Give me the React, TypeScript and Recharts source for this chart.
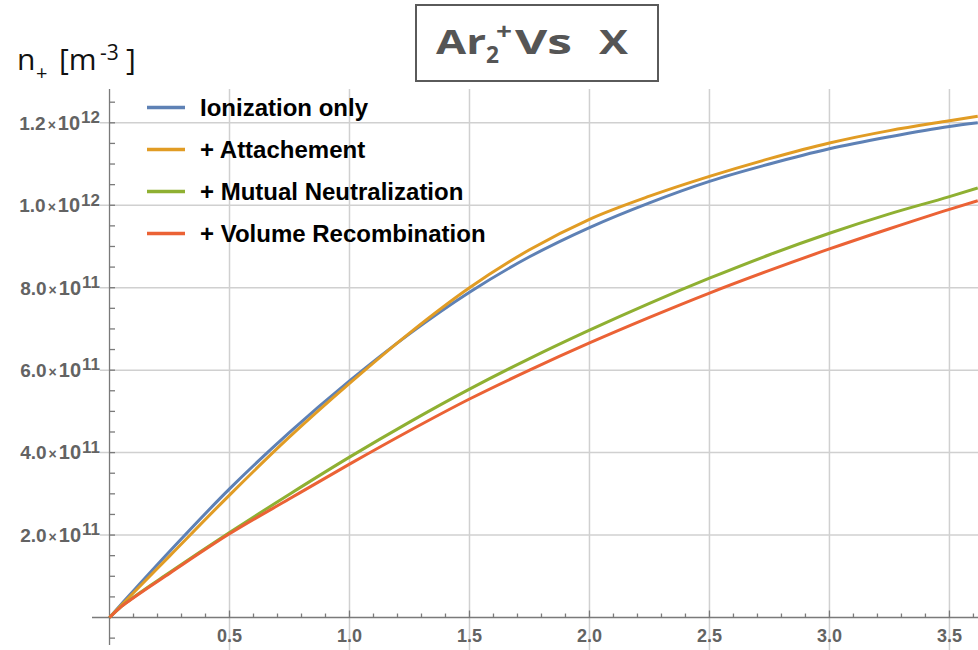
import React from 'react';
import { ComposedChart, Line, Scatter, XAxis, YAxis, ReferenceLine } from 'recharts';

// Sample positions along X and the Ar2+ density of each model (m^-3)
const xValues = [0, 0.05, 0.1, 0.25, 0.5, 0.75, 1.0, 1.25, 1.5, 1.75, 2.0, 2.25, 2.5, 2.75, 3.0, 3.25, 3.5, 3.618];
const ionizationOnly = [0, 0.33e11, 0.65e11, 1.6e11, 3.12e11, 4.49e11, 5.74e11, 6.88e11, 7.89e11, 8.75e11, 9.46e11, 10.06e11, 10.58e11, 11.0e11, 11.37e11, 11.66e11, 11.91e11, 12.0e11];
const withAttachment = [0, 0.3e11, 0.6e11, 1.49e11, 2.97e11, 4.38e11, 5.68e11, 6.9e11, 8.0e11, 8.92e11, 9.66e11, 10.22e11, 10.7e11, 11.13e11, 11.51e11, 11.81e11, 12.05e11, 12.16e11];
const withMutualNeutralization = [0, 0.27e11, 0.49e11, 1.09e11, 2.06e11, 2.99e11, 3.89e11, 4.74e11, 5.54e11, 6.28e11, 6.97e11, 7.62e11, 8.23e11, 8.8e11, 9.32e11, 9.79e11, 10.21e11, 10.42e11];
const withVolumeRecombination = [0, 0.27e11, 0.48e11, 1.07e11, 2.03e11, 2.88e11, 3.72e11, 4.53e11, 5.3e11, 6.0e11, 6.66e11, 7.28e11, 7.87e11, 8.42e11, 8.94e11, 9.43e11, 9.9e11, 10.11e11];

const seriesNames = ['Ionization only', '+ Attachement', '+ Mutual Neutralization', '+ Volume Recombination'];
const seriesColors = ['#5E81B5', '#E19C24', '#8FB032', '#EB6235'];
const seriesValues = [ionizationOnly, withAttachment, withMutualNeutralization, withVolumeRecombination];

// Axis ticks and labels
const xMajorTicks = [0.5, 1.0, 1.5, 2.0, 2.5, 3.0, 3.5];
const xTickLabels = ['0.5', '1.0', '1.5', '2.0', '2.5', '3.0', '3.5'];
const yMajorTicks = [2e11, 4e11, 6e11, 8e11, 1e12, 1.2e12];
const yTickMantissas = ['2.0', '4.0', '6.0', '8.0', '1.0', '1.2'];
const yTickExponents = ['11', '11', '11', '11', '12', '12'];
const xMinorTicks = Array.from({ length: 36 }, (_, i) => (i + 1) / 10);
const yMinorTicks = Array.from({ length: 27 }, (_, i) => (i - 1) * 5e10).filter((v) => v !== 0);

// Axis ranges (axes cross at the origin, with a little room below and left of it)
const X_MIN = -0.073;
const X_MAX = 3.619;
const Y_MIN = -0.788e11;
const Y_MAX = 12.82e11;
const GRID_LEFT = -0.04;
const Y_AXIS_BOTTOM = -0.667e11;

const GRID = '#d0d0d0';
const AXIS = '#7a7a7a';
const LABEL = '#636363';
const TICK_FONT = '"Liberation Sans", Arial, sans-serif';
const TITLE_FONT = '"Open Sans", sans-serif';

const toPoints = (ys: number[]) => xValues.map((x, i) => ({ x, y: ys[i] }));

const xTickData = xMinorTicks.map((x) => ({ x, y: 0, major: Math.abs(x * 2 - Math.round(x * 2)) < 1e-6 }));
const yTickData = yMinorTicks.map((y) => ({ x: 0, y }));
const xLabelData = xMajorTicks.map((x, i) => ({ x, y: 0, label: xTickLabels[i] }));
const yLabelData = yMajorTicks.map((y, i) => ({ x: 0, y, mantissa: yTickMantissas[i], exponent: yTickExponents[i] }));

const XTick = (p: any) => (
  <line x1={p.cx} y1={p.cy} x2={p.cx} y2={p.cy - (p.payload.major ? 7 : 4)} stroke={AXIS} strokeWidth={1.3} />
);

const YTick = (p: any) => (
  <line x1={p.cx} y1={p.cy} x2={p.cx + 5.5} y2={p.cy} stroke={AXIS} strokeWidth={1.3} />
);

const XLabel = (p: any) => (
  <text x={p.cx} y={p.cy + 24} textAnchor="middle" fontFamily={TICK_FONT} fontWeight="bold" fontSize={18} fill={LABEL}>
    {p.payload.label}
  </text>
);

const YLabel = (p: any) => (
  <text x={p.cx - 9.5} y={p.cy + 6.8} textAnchor="end" fontFamily={TICK_FONT} fontWeight="bold" fontSize={19} fill={LABEL}>
    <tspan>{p.payload.mantissa}</tspan>
    <tspan fontSize={14} dx={2}>×</tspan>
    <tspan fontSize={20} dx={2}>10</tspan>
    <tspan fontSize={17} dx={1} dy={-6.5}>{p.payload.exponent}</tspan>
  </text>
);

export default function App() {
  return (
    <div style={{ position: 'absolute', left: 0, top: 0, width: 978, height: 650, background: '#fff' }}>
      <ComposedChart width={978} height={650} margin={{ top: 89, right: 0, bottom: 0, left: 92 }}>
        <XAxis type="number" dataKey="x" domain={[X_MIN, X_MAX]} hide />
        <YAxis type="number" dataKey="y" domain={[Y_MIN, Y_MAX]} hide />

        {xMajorTicks.map((x) => (
          <ReferenceLine key={`gx${x}`} x={x} stroke={GRID} strokeWidth={1.5} />
        ))}
        {yMajorTicks.map((y) => (
          <ReferenceLine
            key={`gy${y}`}
            segment={[{ x: GRID_LEFT, y }, { x: X_MAX, y }]}
            stroke={GRID}
            strokeWidth={1.5}
          />
        ))}
        <ReferenceLine y={0} stroke={AXIS} strokeWidth={1.3} />
        <ReferenceLine segment={[{ x: 0, y: Y_AXIS_BOTTOM }, { x: 0, y: Y_MAX }]} stroke={AXIS} strokeWidth={1.3} />

        <Scatter data={xTickData} shape={XTick} isAnimationActive={false} legendType="none" />
        <Scatter data={yTickData} shape={YTick} isAnimationActive={false} legendType="none" />
        <Scatter data={xLabelData} shape={XLabel} isAnimationActive={false} legendType="none" />
        <Scatter data={yLabelData} shape={YLabel} isAnimationActive={false} legendType="none" />

        {seriesValues.map((vals, i) => (
          <Line
            key={seriesNames[i]}
            data={toPoints(vals)}
            dataKey="y"
            name={seriesNames[i]}
            type="monotone"
            stroke={seriesColors[i]}
            strokeWidth={3}
            dot={false}
            isAnimationActive={false}
          />
        ))}
      </ComposedChart>

      <svg width={978} height={650} style={{ position: 'absolute', left: 0, top: 0, pointerEvents: 'none' }}>
        {/* y-axis quantity */}
        <text fontFamily={TITLE_FONT} fontSize={30} fill="#111">
          <tspan x={17} y={70}>n</tspan>
          <tspan x={36} y={80} fontSize={20}>+</tspan>
          <tspan x={59} y={70}>[m</tspan>
          <tspan x={100} y={60} fontSize={21}>-3</tspan>
          <tspan x={126} y={70}>]</tspan>
        </text>

        {/* title box */}
        <rect x={416} y={5} width={242} height={76} fill="#fff" stroke="#5a5a5a" strokeWidth={2} />
        <g fontFamily={TITLE_FONT} fontWeight="bold" fill="#555">
          <text x={436} y={53.5} fontSize={34} textLength={50} lengthAdjust="spacingAndGlyphs">Ar</text>
          <text x={486} y={63} fontSize={24} textLength={13} lengthAdjust="spacingAndGlyphs">2</text>
          <text x={496} y={40} fontSize={24} textLength={16} lengthAdjust="spacingAndGlyphs">+</text>
          <text x={515} y={53.5} fontSize={34} textLength={57} lengthAdjust="spacingAndGlyphs">Vs</text>
          <text x={599} y={53.5} fontSize={34} textLength={29} lengthAdjust="spacingAndGlyphs">X</text>
        </g>

        {/* legend */}
        {seriesNames.map((name, i) => (
          <g key={name}>
            <line x1={147} x2={185} y1={107.5 + 42 * i} y2={107.5 + 42 * i} stroke={seriesColors[i]} strokeWidth={3.5} />
            <text x={200} y={116 + 42 * i} fontFamily={TICK_FONT} fontWeight="bold" fontSize={24} fill="#000">
              {name}
            </text>
          </g>
        ))}
      </svg>
    </div>
  );
}
